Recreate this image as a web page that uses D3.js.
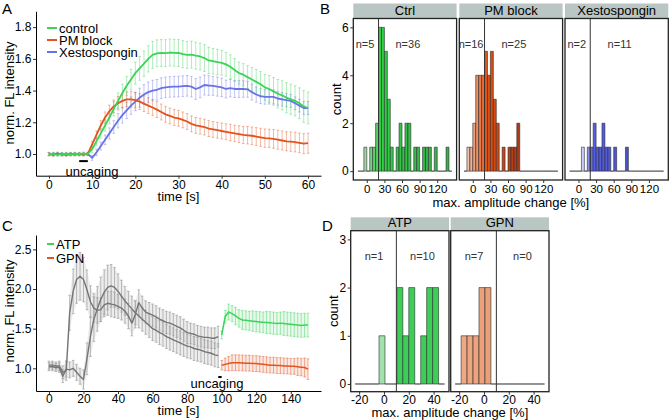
<!DOCTYPE html>
<html>
<head>
<meta charset="utf-8">
<script src="https://cdn.jsdelivr.net/npm/d3@7"></script>
<style>
body { margin: 0; background: #fff; }
svg text { font-family: "Liberation Sans", Arial, sans-serif; }
</style>
</head>
<body>
<svg id="chart" width="669" height="420"></svg>
<script>
// ---------- Panel A: mean traces, 1 s sampling ----------
const timeA = d3.range(0, 61);
const controlMean = [1.0, 1.0, 0.995, 1.0, 1.0, 0.998, 1.0, 1.0, 1.002, 1.0,
  1.03, 1.08, 1.13, 1.18, 1.23, 1.285, 1.335, 1.385, 1.43, 1.47,
  1.51, 1.54, 1.57, 1.6, 1.625, 1.635, 1.637, 1.636, 1.64, 1.638,
  1.637, 1.63, 1.625, 1.627, 1.62, 1.615, 1.605, 1.59, 1.585, 1.58,
  1.575, 1.565, 1.55, 1.53, 1.51, 1.5, 1.485, 1.47, 1.455, 1.44,
  1.42, 1.41, 1.395, 1.38, 1.37, 1.355, 1.345, 1.335, 1.32, 1.3, 1.29];
const controlErr = [0.01, 0.01, 0.01, 0.01, 0.01, 0.01, 0.01, 0.01, 0.01, 0.01,
  0.02, 0.025, 0.03, 0.035, 0.04, 0.045, 0.05, 0.055, 0.06, 0.065,
  0.07, 0.075, 0.08, 0.083, 0.085, 0.085, 0.085, 0.085, 0.085, 0.085,
  0.085, 0.085, 0.085, 0.085, 0.085, 0.085, 0.085, 0.083, 0.08, 0.08,
  0.078, 0.075, 0.075, 0.072, 0.07, 0.07, 0.072, 0.075, 0.078, 0.08,
  0.082, 0.085, 0.087, 0.09, 0.092, 0.095, 0.095, 0.095, 0.097, 0.1, 0.1];
const pmMean = [0.998, 0.995, 1.0, 0.997, 0.995, 0.998, 1.0, 0.997, 0.996, 1.0,
  1.06, 1.12, 1.18, 1.23, 1.27, 1.3, 1.32, 1.335, 1.345, 1.345,
  1.34, 1.33, 1.318, 1.305, 1.293, 1.28, 1.265, 1.25, 1.24, 1.23,
  1.225, 1.215, 1.205, 1.19, 1.18, 1.175, 1.17, 1.16, 1.155, 1.15,
  1.145, 1.14, 1.135, 1.13, 1.125, 1.12, 1.118, 1.115, 1.11, 1.105,
  1.1, 1.098, 1.095, 1.09, 1.085, 1.08, 1.078, 1.075, 1.07, 1.065, 1.068];
const pmErr = [0.01, 0.01, 0.01, 0.01, 0.01, 0.01, 0.01, 0.01, 0.01, 0.01,
  0.02, 0.025, 0.03, 0.035, 0.038, 0.04, 0.042, 0.045, 0.047, 0.048,
  0.05, 0.05, 0.05, 0.05, 0.05, 0.05, 0.05, 0.05, 0.05, 0.05,
  0.05, 0.05, 0.05, 0.05, 0.05, 0.05, 0.05, 0.05, 0.05, 0.05,
  0.05, 0.05, 0.052, 0.052, 0.053, 0.054, 0.055, 0.055, 0.056, 0.057,
  0.058, 0.058, 0.059, 0.06, 0.06, 0.06, 0.061, 0.062, 0.062, 0.063, 0.063];
const xestoMean = [1.0, 1.0, 1.002, 0.998, 1.0, 1.0, 0.998, 1.0, 1.0, 1.0,
  0.975, 1.01, 1.05, 1.09, 1.13, 1.17, 1.21, 1.245, 1.275, 1.305,
  1.33, 1.355, 1.375, 1.39, 1.4, 1.405, 1.415, 1.42, 1.423, 1.425,
  1.425, 1.428, 1.43, 1.425, 1.41, 1.42, 1.435, 1.432, 1.43, 1.425,
  1.42, 1.41, 1.415, 1.41, 1.41, 1.41, 1.408, 1.39, 1.375, 1.365,
  1.36, 1.36, 1.36, 1.35, 1.345, 1.34, 1.335, 1.32, 1.305, 1.29, 1.29];
const xestoErr = [0.01, 0.01, 0.01, 0.01, 0.01, 0.01, 0.01, 0.01, 0.01, 0.01,
  0.015, 0.02, 0.025, 0.03, 0.035, 0.04, 0.045, 0.05, 0.052, 0.055,
  0.057, 0.06, 0.062, 0.064, 0.065, 0.065, 0.065, 0.065, 0.065, 0.065,
  0.065, 0.065, 0.065, 0.065, 0.065, 0.065, 0.063, 0.062, 0.06, 0.06,
  0.058, 0.056, 0.055, 0.054, 0.053, 0.052, 0.05, 0.05, 0.048, 0.047,
  0.046, 0.045, 0.044, 0.043, 0.042, 0.042, 0.041, 0.04, 0.04, 0.04, 0.04];
const uncagingA = [7, 9];

// ---------- Panel C: 2 s sampling ----------
const timeCPre = d3.range(0, 100, 2);
const atpPreMean = [1.04, 1.04, 1.03, 1.03, 0.95, 0.97, 1.7, 1.97, 2.12, 2.16,
  2.12, 1.99, 1.84, 1.76, 1.73, 1.74, 1.8, 1.82, 1.81, 1.8,
  1.78, 1.76, 1.72, 1.66, 1.57, 1.68, 1.83, 1.76, 1.71, 1.69,
  1.67, 1.65, 1.62, 1.6, 1.58, 1.57, 1.55, 1.53, 1.51, 1.48,
  1.45, 1.44, 1.43, 1.41, 1.4, 1.39, 1.39, 1.38, 1.38, 1.4];
const atpPreErr = [0.05, 0.05, 0.05, 0.06, 0.08, 0.12, 0.22, 0.28, 0.3, 0.3,
  0.28, 0.25, 0.2, 0.18, 0.16, 0.15, 0.15, 0.15, 0.16, 0.16,
  0.15, 0.15, 0.15, 0.16, 0.16, 0.17, 0.16, 0.15, 0.14, 0.14,
  0.14, 0.14, 0.14, 0.14, 0.14, 0.14, 0.14, 0.14, 0.14, 0.14,
  0.14, 0.13, 0.13, 0.13, 0.13, 0.13, 0.13, 0.13, 0.13, 0.13];
const gpnPreMean = [1.02, 1.02, 1.01, 1.01, 0.9, 0.99, 0.98, 1.0, 0.95, 0.9,
  0.86, 1.12, 1.4, 1.62, 1.75, 1.87, 1.96, 2.02, 2.04, 2.02,
  1.97, 1.91, 1.85, 1.8, 1.75, 1.7, 1.66, 1.62, 1.58, 1.54,
  1.5, 1.48, 1.45, 1.43, 1.4, 1.38, 1.36, 1.34, 1.32, 1.3,
  1.28, 1.27, 1.25, 1.24, 1.23, 1.21, 1.2, 1.19, 1.17, 1.16];
const gpnPreErr = [0.05, 0.05, 0.05, 0.06, 0.08, 0.1, 0.1, 0.1, 0.1, 0.1,
  0.12, 0.2, 0.25, 0.28, 0.28, 0.28, 0.28, 0.28, 0.27, 0.25,
  0.22, 0.2, 0.18, 0.17, 0.16, 0.15, 0.15, 0.15, 0.15, 0.15,
  0.15, 0.15, 0.15, 0.15, 0.15, 0.15, 0.15, 0.15, 0.15, 0.15,
  0.15, 0.15, 0.15, 0.15, 0.15, 0.15, 0.15, 0.15, 0.15, 0.15];
const timeCPost = d3.range(100, 151, 2);
const atpMean = [1.42, 1.65, 1.71, 1.69, 1.66, 1.63, 1.61, 1.605, 1.6, 1.595,
  1.59, 1.585, 1.58, 1.578, 1.575, 1.57, 1.565, 1.57, 1.565, 1.56,
  1.555, 1.55, 1.545, 1.54, 1.545, 1.545];
const atpErr = [0.05, 0.08, 0.1, 0.1, 0.11, 0.11, 0.12, 0.12, 0.12, 0.13,
  0.13, 0.13, 0.13, 0.14, 0.14, 0.14, 0.14, 0.14, 0.15, 0.15,
  0.15, 0.15, 0.15, 0.15, 0.15, 0.15];
const gpnMean = [1.04, 1.05, 1.06, 1.07, 1.07, 1.07, 1.068, 1.065, 1.065, 1.06,
  1.06, 1.055, 1.05, 1.045, 1.04, 1.04, 1.035, 1.035, 1.03, 1.03,
  1.025, 1.025, 1.02, 1.015, 1.01, 0.99];
const gpnErr = [0.06, 0.08, 0.09, 0.1, 0.1, 0.1, 0.1, 0.1, 0.1, 0.1,
  0.1, 0.1, 0.1, 0.1, 0.1, 0.1, 0.1, 0.1, 0.1, 0.1,
  0.1, 0.1, 0.11, 0.11, 0.12, 0.13];
const uncagingC = [98, 100];

// ---------- Panel B: histograms, bin width 5 ----------
const binStartsB = [-15, -10, -5, 0, 5, 10, 15, 20, 25, 30, 35, 40, 45, 50, 55, 60,
  65, 70, 75, 80, 85, 90, 95, 100, 105, 110, 115, 120, 125, 130, 135, 140];
const ctrlCounts = [0, 0, 1, 0, 1, 1, 2, 6, 6, 5, 3, 1, 0, 1, 2, 1,
  2, 2, 0, 1, 1, 0, 1, 1, 1, 0, 1, 0, 0, 0, 1, 0];
const pmCounts = [0, 1, 1, 2, 4, 4, 4, 5, 4, 5, 3, 2, 0, 1, 0, 1,
  1, 1, 2, 0, 0, 0, 0, 0, 0, 0, 0, 0, 0, 0, 0, 0];
const xestoCounts = [0, 0, 0, 0, 1, 0, 1, 1, 2, 1, 1, 2, 1, 1, 0, 1,
  0, 0, 0, 1, 0, 0, 0, 0, 0, 0, 0, 0, 0, 0, 0, 0];
const facetsB = ["Ctrl", "PM block", "Xestospongin"];
const nLabelsB = [["n=5", "n=36"], ["n=16", "n=25"], ["n=2", "n=11"]];
const xTicksB = [0, 30, 60, 90, 120];
const yTicksB = [0, 2, 4, 6];

// ---------- Panel D: histograms, bin width 4.8 ----------
const binStartsD = [-23.2, -18.4, -13.6, -8.8, -4.0, 0.8, 5.6, 10.4, 15.2, 20.0,
  24.8, 29.6, 34.4, 39.2, 44.0];
const atpCounts = [0, 0, 0, 0, 1, 0, 0, 2, 1, 2, 0, 1, 2, 2, 0];
const gpnCounts = [0, 1, 1, 1, 2, 2, 0, 0, 0, 0, 0, 0, 0, 0, 0];
const facetsD = ["ATP", "GPN"];
const nLabelsD = [["n=1", "n=10"], ["n=7", "n=0"]];
const xTicksD = [-20, 0, 20, 40];
const yTicksD = [0, 1, 2, 3];

const svg = d3.select("#chart");
const FONT = "Liberation Sans, Arial, sans-serif";

function styleAxis(sel, size) {
  sel.attr("font-family", FONT).attr("font-size", size);
  sel.select(".domain").attr("stroke", "#000").attr("stroke-width", 1);
  sel.selectAll(".tick line").attr("stroke", "#333");
  sel.selectAll(".tick text").attr("fill", "#000");
}

function errPath(x, y, t, m, e, cap) {
  const px = x(t), y1 = y(m + e), y2 = y(m - e);
  return `M${px - cap},${y1}H${px + cap}M${px},${y1}V${y2}M${px - cap},${y2}H${px + cap}`;
}

function drawLinePanel(cfg) {
  const g = svg.append("g");
  const x = d3.scaleLinear().domain(cfg.xDomain).range(cfg.xRange);
  const y = d3.scaleLinear().domain(cfg.yDomain).range(cfg.yRange);

  // faint band behind dense error bars
  cfg.series.filter(s => s.band).forEach(s => {
    const area = d3.area()
      .x((d, i) => x(s.time[i]))
      .y0((d, i) => y(d - s.err[i]))
      .y1((d, i) => y(d + s.err[i]));
    g.append("path").datum(s.mean).attr("d", area)
      .attr("fill", s.band).attr("fill-opacity", s.bandOpacity);
  });
  cfg.series.forEach(s => {
    const pts = s.time.map((t, i) => ({ t: t, m: s.mean[i], e: s.err[i] }));
    g.append("g").selectAll("path").data(pts).join("path")
      .attr("d", d => errPath(x, y, d.t, d.m, d.e, 1.3))
      .attr("fill", "none")
      .attr("stroke", s.errColor)
      .attr("stroke-opacity", s.errOpacity)
      .attr("stroke-width", s.errWidth || 0.9);
  });
  cfg.series.forEach(s => {
    const line = d3.line().x((d, i) => x(s.time[i])).y(d => y(d));
    g.append("path").datum(s.mean)
      .attr("d", line)
      .attr("fill", "none")
      .attr("stroke", s.color)
      .attr("stroke-width", s.width)
      .attr("stroke-linejoin", "round");
  });

  // uncaging marker
  g.append("line")
    .attr("x1", x(cfg.uncaging[0])).attr("x2", x(cfg.uncaging[1]))
    .attr("y1", y(cfg.uncagingY)).attr("y2", y(cfg.uncagingY))
    .attr("stroke", "#000").attr("stroke-width", 2);
  g.append("text")
    .attr("x", cfg.uncagingText[0]).attr("y", cfg.uncagingText[1])
    .attr("text-anchor", "middle").attr("font-size", 13)
    .text("uncaging");

  const xa = g.append("g").attr("transform", `translate(0,${cfg.yRange[0]})`)
    .call(d3.axisBottom(x).tickValues(cfg.xTicks).tickSize(3).tickSizeOuter(0).tickPadding(cfg.xPad));
  styleAxis(xa, 12);
  const ya = g.append("g").attr("transform", `translate(${cfg.xRange[0]},0)`)
    .call(d3.axisLeft(y).tickValues(cfg.yTicks).tickFormat(d3.format(".1f"))
      .tickSize(3).tickSizeOuter(0).tickPadding(1.5));
  styleAxis(ya, 12);

  g.append("text")
    .attr("x", (cfg.xRange[0] + cfg.xRange[1]) / 2).attr("y", cfg.xTitleY)
    .attr("text-anchor", "middle").attr("font-size", 13).text("time [s]");
  g.append("text")
    .attr("transform", `translate(${cfg.yTitleX},${cfg.yTitleY}) rotate(-90)`)
    .attr("text-anchor", "middle").attr("font-size", 13).text("norm. FL intensity");

  // legend
  cfg.legend.forEach((l, i) => {
    const ly = cfg.legendY + i * cfg.legendStep;
    g.append("line").attr("x1", 47).attr("x2", cfg.legendLineEnd)
      .attr("y1", ly).attr("y2", ly)
      .attr("stroke", l.color).attr("stroke-width", 2);
    g.append("text").attr("x", cfg.legendLineEnd + 2).attr("y", ly + 4.5)
      .attr("font-size", 13).text(l.label);
  });
}

function drawHistPanel(cfg) {
  const g = svg.append("g");
  const y = d3.scaleLinear().domain(cfg.yDomain).range([cfg.panelBottom, cfg.panelTop]);

  cfg.facets.forEach((name, fi) => {
    const left = cfg.lefts[fi];
    const x = d3.scaleLinear().domain(cfg.xDomain).range([left, left + cfg.width]);
    const fg = g.append("g");

    // strip
    fg.append("rect")
      .attr("x", left).attr("y", cfg.stripTop)
      .attr("width", cfg.width).attr("height", cfg.panelTop - cfg.stripTop)
      .attr("fill", "#b9c6c3");
    fg.append("text")
      .attr("x", left + cfg.width / 2).attr("y", cfg.panelTop - 3.5)
      .attr("text-anchor", "middle").attr("font-size", 13).text(name);

    // bars (zero bins draw as baseline outline)
    const bins = cfg.starts.map((s, i) => ({ s: s, c: cfg.counts[fi][i] }));
    fg.append("g").selectAll("path").data(bins).join("path")
      .attr("d", d => {
        const x0 = x(d.s), x1 = x(d.s + cfg.binWidth), y0 = y(0), y1 = y(d.c);
        return `M${x0},${y0}V${y1}H${x1}V${y0}Z`;
      })
      .attr("fill", d => cfg.colors[fi](d.s + cfg.binWidth / 2))
      .attr("stroke", "#2b2b2b")
      .attr("stroke-width", 0.6);

    // threshold
    fg.append("line")
      .attr("x1", x(cfg.threshold)).attr("x2", x(cfg.threshold))
      .attr("y1", cfg.panelTop).attr("y2", cfg.panelBottom)
      .attr("stroke", "#333").attr("stroke-width", 1);

    // n labels
    cfg.nLabels[fi].forEach((lab, li) => {
      fg.append("text")
        .attr("x", x(cfg.nLabelX[li])).attr("y", y(cfg.nLabelY) + 4)
        .attr("text-anchor", "middle").attr("font-size", 11)
        .attr("fill", "#333").text(lab);
    });

    // border
    fg.append("rect")
      .attr("x", left).attr("y", cfg.panelTop)
      .attr("width", cfg.width).attr("height", cfg.panelBottom - cfg.panelTop)
      .attr("fill", "none").attr("stroke", "#222").attr("stroke-width", 1.3);

    // x axis
    const xa = fg.append("g").attr("transform", `translate(0,${cfg.panelBottom})`)
      .call(d3.axisBottom(x).tickValues(cfg.xTicks).tickSize(3).tickSizeOuter(0)
        .tickPadding(cfg.xPad).tickFormat(d => d < 0 ? "-" + Math.abs(d) : String(d)));
    xa.select(".domain").remove();
    styleAxis(xa, cfg.tickFont);

    if (fi === 0) {
      const ya = fg.append("g").attr("transform", `translate(${left},0)`)
        .call(d3.axisLeft(y).tickValues(cfg.yTicks).tickFormat(d3.format("d"))
          .tickSize(3).tickSizeOuter(0).tickPadding(1.5));
      ya.select(".domain").remove();
      styleAxis(ya, 12);
    }
  });

  const mid = (cfg.lefts[0] + cfg.lefts[cfg.lefts.length - 1] + cfg.width) / 2;
  g.append("text").attr("x", mid).attr("y", cfg.xTitleY)
    .attr("text-anchor", "middle").attr("font-size", 13).text("max. amplitude change [%]");
  g.append("text")
    .attr("transform", `translate(${cfg.yTitleX},${(cfg.panelTop + cfg.panelBottom) / 2}) rotate(-90)`)
    .attr("text-anchor", "middle").attr("font-size", 13).text("count");
}

// ---------- draw ----------
const GREEN = "#3dd35a", RED = "#e2531e", BLUE = "#6a73e6", GREY = "#757575";

drawLinePanel({
  xDomain: [-3, 63], xRange: [36, 321],
  yDomain: [0.863, 1.9], yRange: [175.7, 11.3],
  xTicks: [0, 10, 20, 30, 40, 50, 60], yTicks: [1.0, 1.2, 1.4, 1.6, 1.8], xPad: 2,
  series: [
    { time: timeA, mean: xestoMean, err: xestoErr, color: BLUE, errColor: BLUE, errOpacity: 0.45, width: 1.8 },
    { time: timeA, mean: pmMean, err: pmErr, color: RED, errColor: RED, errOpacity: 0.45, width: 1.8 },
    { time: timeA, mean: controlMean, err: controlErr, color: GREEN, errColor: GREEN, errOpacity: 0.45, width: 1.8 }
  ],
  uncaging: uncagingA, uncagingY: 0.955, uncagingText: [92, 176],
  xTitleY: 201, yTitleX: 14, yTitleY: 93,
  legend: [{ label: "control", color: GREEN }, { label: "PM block", color: RED }, { label: "Xestospongin", color: BLUE }],
  legendY: 28, legendStep: 12, legendLineEnd: 57
});

drawLinePanel({
  xDomain: [-7.5, 157.5], xRange: [36, 321],
  yDomain: [0.714, 2.68], yRange: [391, 235.1],
  xTicks: [0, 20, 40, 60, 80, 100, 120, 140], yTicks: [1.0, 1.5, 2.0, 2.5], xPad: 0.5,
  series: [
    { time: timeCPre, mean: atpPreMean, err: atpPreErr, color: GREY, errColor: "#a8a8a8", errOpacity: 0.8, errWidth: 1,
      band: "#d6d6d6", bandOpacity: 0.45, width: 1.4 },
    { time: timeCPre, mean: gpnPreMean, err: gpnPreErr, color: GREY, errColor: "#a8a8a8", errOpacity: 0.8, errWidth: 1,
      band: "#d6d6d6", bandOpacity: 0.45, width: 1.4 },
    { time: timeCPost, mean: atpMean, err: atpErr, color: GREEN, errColor: GREEN, errOpacity: 0.45, errWidth: 1,
      band: GREEN, bandOpacity: 0.12, width: 1.5 },
    { time: timeCPost, mean: gpnMean, err: gpnErr, color: RED, errColor: RED, errOpacity: 0.45, errWidth: 1,
      band: RED, bandOpacity: 0.12, width: 1.5 }
  ],
  uncaging: uncagingC, uncagingY: 0.89, uncagingText: [217, 388],
  xTitleY: 415, yTitleX: 14, yTitleY: 311,
  legend: [{ label: "ATP", color: GREEN }, { label: "GPN", color: RED }],
  legendY: 244, legendStep: 14, legendLineEnd: 54
});

drawHistPanel({
  facets: facetsB, counts: [ctrlCounts, pmCounts, xestoCounts], starts: binStartsB, binWidth: 5,
  lefts: [353.3, 459.3, 565], width: 103.3,
  xDomain: [-23, 153], yDomain: [-0.37, 6.37],
  stripTop: 3.5, panelTop: 18.5, panelBottom: 180,
  threshold: 20, nLabels: nLabelsB, nLabelX: [-3, 70], nLabelY: 5.3,
  xTicks: xTicksB, yTicks: yTicksB, xTitleY: 207, yTitleX: 341, tickFont: 11.5, xPad: 1.5,
  colors: [
    d3.scaleLinear().domain([-5, 25, 140]).range(["#a9d6ae", "#2fcf45", "#3fa94f"]).clamp(true),
    d3.scaleLinear().domain([-10, 25, 80]).range(["#f4cdb8", "#e4500f", "#a83a1c"]).clamp(true),
    d3.scaleLinear().domain([5, 25, 85]).range(["#dcdcfa", "#5560e6", "#4a52c8"]).clamp(true)
  ]
});

drawHistPanel({
  facets: facetsD, counts: [atpCounts, gpnCounts], starts: binStartsD, binWidth: 4.8,
  lefts: [350.7, 450.7], width: 98.3,
  xDomain: [-26.8, 52.4], yDomain: [-0.16, 3.18],
  stripTop: 217.3, panelTop: 230.7, panelBottom: 391.7,
  threshold: 10, nLabels: nLabelsD, nLabelX: [-8, 31], nLabelY: 2.66,
  xTicks: xTicksD, yTicks: yTicksD, xTitleY: 417, yTitleX: 338, tickFont: 12, xPad: 0.5,
  colors: [
    d3.scaleLinear().domain([-2, 12, 45]).range(["#a5e2b0", "#3ccf58", "#3ccf58"]).clamp(true),
    d3.scaleLinear().domain([-20, 5]).range(["#f0aa86", "#eb9e77"]).clamp(true)
  ]
});

// panel letters
[["A", 2, 14], ["B", 320, 14], ["C", 2, 231], ["D", 322, 231]].forEach(p => {
  svg.append("text").attr("x", p[1]).attr("y", p[2])
    .attr("font-size", 15).text(p[0]);
});
</script>
</body>
</html>
